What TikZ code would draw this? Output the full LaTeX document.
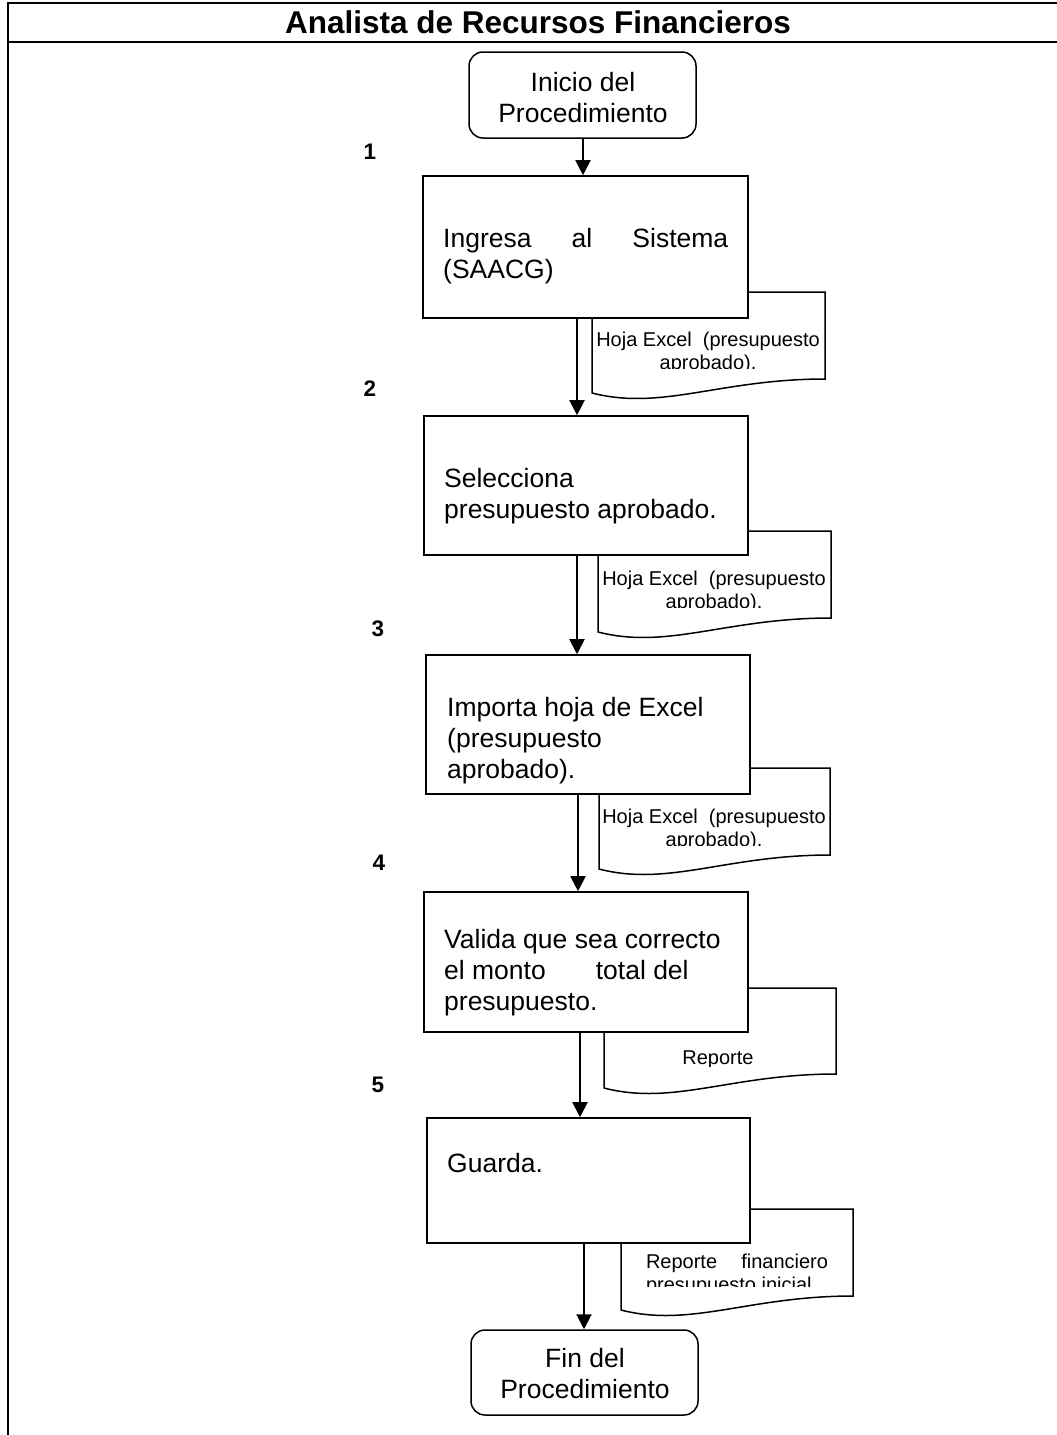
\documentclass[tikz,border=0pt]{standalone}
\usepackage{fontspec}
\setmainfont{Liberation Sans}
\usetikzlibrary{arrows.meta,calc}

% document symbol: left, top, right, right-bottom y, left-bottom y
\newcommand\docsheet[5]{%
  \filldraw[docline] (#1,#2) -- (#3,#2) -- (#3,#4)
    .. controls ({#1+0.55*(#3-#1)},#4) and ({#1+0.3*(#3-#1)},{#5+18}) .. (#1,#5) -- cycle;}

\tikzset{
  frame/.style={line width=2.6pt},
  stepbox/.style={draw, fill=white, line width=1.6pt, rectangle, inner sep=0pt},
  terminal/.style={draw, fill=white, line width=1.5pt, rectangle, rounded corners=14pt, inner sep=0pt},
  docline/.style={draw=black, fill=white, line width=1.5pt},
  flow/.style={line width=2pt, -{Triangle[width=15pt,length=15pt]}},
  bodytext/.style={inner sep=0pt, anchor=base west, font=\fontsize{26.5}{31}\selectfont},
  termtext/.style={inner sep=0pt, anchor=base, font=\fontsize{26.5}{31}\selectfont},
  doctext/.style={inner sep=0pt, anchor=base, font=\fontsize{20}{23}\selectfont},
  steplabel/.style={inner sep=0pt, anchor=base, font=\fontsize{22.5}{26}\selectfont\bfseries},
  titletext/.style={inner sep=0pt, anchor=base, font=\fontsize{31.5}{36}\selectfont\bfseries},
}

\begin{document}
\begin{tikzpicture}[x=1pt,y=-1pt]
\useasboundingbox (0,0) rectangle (1057,1435);

% lane frame and heading
\draw[frame] (1060,3) -- (8,3) -- (8,1440);
\draw[frame] (8,42) -- (1060,42);
\node[titletext] (title) at (538,33) {Analista de Recursos Financieros};

% documents produced by each step
\docsheet{592}{292}{825}{379}{393}
\docsheet{598}{531}{831}{618}{632}
\docsheet{599}{768}{830}{855}{869}
\docsheet{604}{988}{836}{1074}{1088}
\docsheet{621}{1209}{853}{1296}{1310}

% terminals and process steps
\node[terminal, minimum width=227pt, minimum height=86pt] (start) at (582.5,95) {};
\node[stepbox, minimum width=325pt, minimum height=142pt] (b1) at (585.5,247) {};
\node[stepbox, minimum width=324pt, minimum height=139pt] (b2) at (586,485.5) {};
\node[stepbox, minimum width=324pt, minimum height=139pt] (b3) at (588,724.5) {};
\node[stepbox, minimum width=324pt, minimum height=140pt] (b4) at (586,962) {};
\node[stepbox, minimum width=323pt, minimum height=125pt] (b5) at (588.5,1180.5) {};
\node[terminal, minimum width=227pt, minimum height=85pt] (finish) at (584.5,1372.5) {};

% flow lines
\coordinate (x0) at (583,0);
\coordinate (x1) at (577,0);
\coordinate (x2) at (577,0);
\coordinate (x3) at (578,0);
\coordinate (x4) at (580,0);
\coordinate (x5) at (584,0);
\draw[flow] (x0 |- start.south) -- (x0 |- b1.north);
\draw[flow] (x1 |- b1.south) -- (x1 |- b2.north);
\draw[flow] (x2 |- b2.south) -- (x2 |- b3.north);
\draw[flow] (x3 |- b3.south) -- (x3 |- b4.north);
\draw[flow] (x4 |- b4.south) -- (x4 |- b5.north);
\draw[flow] (x5 |- b5.south) -- (x5 |- finish.north);

% step numbers
\node[steplabel] (n1) at (370,159) {1};
\node[steplabel] (n2) at (370,396) {2};
\node[steplabel] (n3) at (378,636) {3};
\node[steplabel] (n4) at (379,870) {4};
\node[steplabel] (n5) at (378,1092) {5};

% terminal texts
\node[termtext] (tstart) at (583,91) {\parbox[t]{220pt}{\centering Inicio del\\Procedimiento}};
\node[termtext] (tfinish) at (585,1367) {\parbox[t]{220pt}{\centering Fin del\\Procedimiento}};

% step texts
\node[bodytext] (t1) at (443,247) {\parbox[t]{300pt}{\makebox[285pt][s]{Ingresa al Sistema}\\(SAACG)}};
\node[bodytext] (t2) at (444,487) {\parbox[t]{300pt}{Selecciona\\presupuesto aprobado.}};
\node[bodytext] (t3) at (447,716) {\parbox[t]{300pt}{Importa hoja de Excel\\(presupuesto\\aprobado).}};
\node[bodytext] (t4) at (444,948) {\parbox[t]{300pt}{Valida que sea correcto\\el monto\hspace{50pt}total del\\presupuesto.}};
\node[bodytext] (t5) at (447,1172) {\parbox[t]{300pt}{Guarda.}};

% document captions, cut off by the symbol's text area
\begin{scope}
  \clip (592,292) rectangle (825,368);
  \node[doctext] (d1) at (708,346) {\parbox[t]{230pt}{\centering Hoja Excel\ \ (presupuesto\\aprobado).}};
\end{scope}
\begin{scope}
  \clip (598,531) rectangle (831,607);
  \node[doctext] (d2) at (714,585) {\parbox[t]{230pt}{\centering Hoja Excel\ \ (presupuesto\\aprobado).}};
\end{scope}
\begin{scope}
  \clip (599,768) rectangle (830,845);
  \node[doctext] (d3) at (714,823) {\parbox[t]{230pt}{\centering Hoja Excel\ \ (presupuesto\\aprobado).}};
\end{scope}
\begin{scope}
  \clip (604,988) rectangle (836,1066);
  \node[doctext] (d4) at (718,1064) {Reporte};
\end{scope}
\begin{scope}
  \clip (621,1209) rectangle (853,1286);
  \node[doctext] (d5) at (737,1268) {\parbox[t]{182pt}{\makebox[182pt][s]{Reporte financiero}\\presupuesto inicial}};
\end{scope}
\end{tikzpicture}
\end{document}
